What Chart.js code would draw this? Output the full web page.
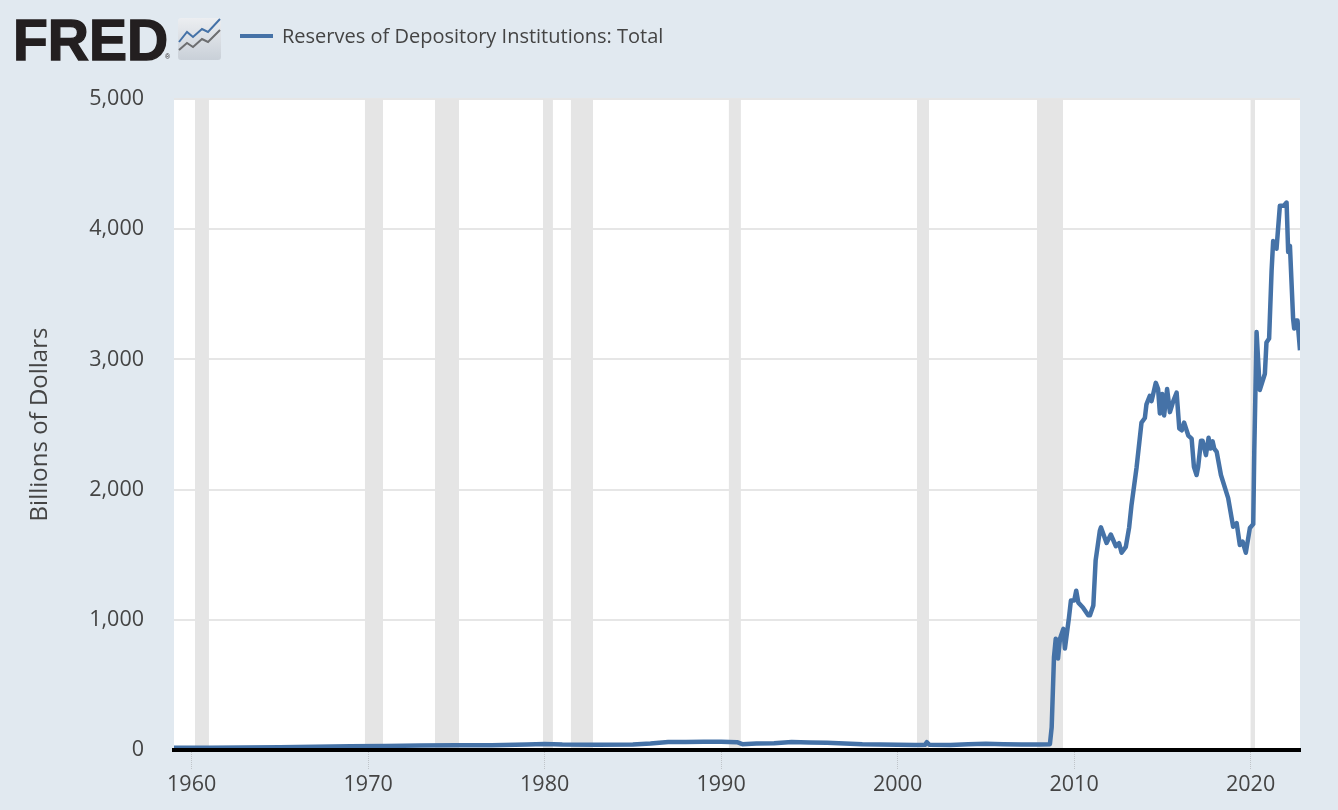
<!DOCTYPE html>
<html>
<head>
<meta charset="utf-8">
<style>
html,body{margin:0;padding:0;width:1338px;height:810px;background:#e1e9f0;overflow:hidden}
#wrap{position:absolute;left:0;top:0;width:1338px;height:810px}
#logo{position:absolute;left:13px;top:7px;font:bold 57px/66px "Liberation Sans",sans-serif;color:#231f20;-webkit-text-stroke:1.4px #231f20}
#reg{position:absolute;left:165px;top:53px;font:7px/8px "Liberation Sans",sans-serif;color:#231f20}
#icon{position:absolute;left:178px;top:18px}
#key{position:absolute;left:240px;top:34px;width:33px;height:4px;background:#4572a7}
#name{position:absolute;left:282px;top:22px;font:20px/28px "Open Sans",sans-serif;color:#444;white-space:nowrap}
</style>
</head>
<body>
<div id="wrap">
<canvas id="c" width="1338" height="810" style="position:absolute;left:0;top:0;width:1338px;height:810px"></canvas>
<div id="logo">FRED</div><div id="reg">®</div>
<svg id="icon" width="44" height="43" viewBox="0 0 44 43">
<defs><linearGradient id="g" x1="0" y1="0" x2="0" y2="1"><stop offset="0" stop-color="#eceef1"/><stop offset="1" stop-color="#c9d0d8"/></linearGradient></defs>
<rect x="0" y="0" width="43" height="42" rx="3" fill="url(#g)"/>
<polyline points="1,32 9,25 15,29 24,21 30,24 42,12" fill="none" stroke="#6d6e70" stroke-width="2"/>
<polyline points="1,24 9,14 15,19 24,11 30,14 42,1" fill="none" stroke="#4572a7" stroke-width="2"/>
</svg>
<div id="key"></div>
<div id="name">Reserves of Depository Institutions: Total</div>
</div>
<script src="https://cdn.jsdelivr.net/npm/chart.js@4/dist/chart.umd.min.js"></script>
<script>
const seriesName = "Reserves of Depository Institutions: Total";
const axisTitle = "Billions of Dollars";
const xTicks = [1960,1970,1980,1990,2000,2010,2020];
const yTicks = [0,1000,2000,3000,4000,5000];
const recessionStart = [1960.19,1969.82,1973.79,1979.91,1981.49,1990.44,2001.10,2007.90,2020.00];
const recessionEnd   = [1960.98,1970.84,1975.15,1980.47,1982.74,1991.12,2001.78,2009.37,2020.25];
const years = [
1959,1961,1963,1965,1967,1969,1971,1973,1975,1977,1979,1980,1981,1983,1985,1986,1987,1988,1989,1990,1990.9,1991.2,1992,1993,1994,1995,1996,1997,1998,1999,2000,2001,2001.55,2001.66,2001.8,2003,2004,2005,2006,2007,2008,
2008.63,2008.73,2008.86,2008.96,2009.09,2009.2,2009.39,2009.48,2009.71,2009.82,2010.01,2010.12,2010.24,2010.5,2010.8,2010.9,2011.09,2011.22,2011.46,2011.52,2011.84,2012.08,2012.37,2012.55,2012.69,2012.93,2013.12,2013.25,2013.54,2013.82,2014.01,2014.1,2014.29,2014.39,2014.63,2014.76,2014.86,2014.99,2015.1,2015.27,2015.43,2015.62,2015.81,2015.96,2016.1,2016.23,2016.47,2016.66,2016.79,2016.94,2017.03,2017.19,2017.28,2017.47,2017.62,2017.73,2017.85,2017.94,2018.08,2018.32,2018.73,2019.01,2019.21,2019.39,2019.55,2019.73,2019.96,2020.15,2020.21,2020.34,2020.52,2020.81,2020.9,2021.05,2021.19,2021.28,2021.47,2021.66,2021.89,2022.04,2022.13,2022.23,2022.41,2022.47,2022.57,2022.66,2022.8];
const reserves = [
18,18,20,22,25,28,30,35,36,36,42,47,42,40,43,50,62,62,64,64,60,45,50,52,62,58,55,50,44,42,40,38,40,60,40,38,44,48,44,42,42,
45,175,712,855,702,855,930,780,1018,1148,1148,1223,1132,1095,1035,1035,1110,1455,1685,1710,1590,1655,1565,1588,1515,1560,1710,1878,2170,2515,2550,2655,2720,2680,2820,2772,2585,2735,2570,2772,2595,2680,2745,2470,2455,2515,2415,2392,2175,2112,2175,2375,2375,2265,2398,2315,2370,2315,2290,2112,1935,1715,1742,1575,1600,1515,1705,1735,2300,3210,2765,2890,3130,3160,3680,3910,3850,4180,4180,4205,3825,3872,3312,3238,3298,3298,3070];

const plotBands = {
  id:'plotBands',
  beforeDraw(chart){
    const {ctx,chartArea:a} = chart;
    ctx.save(); ctx.fillStyle='#ffffff';
    ctx.fillRect(a.left,a.top,a.right-a.left,a.bottom-a.top);
    ctx.restore();
  },
  beforeDatasetsDraw(chart){
    const {ctx,chartArea:a,scales:{x}} = chart;
    ctx.save(); ctx.fillStyle='#e5e5e5';
    recessionStart.forEach((s,i)=>{
      const l=x.getPixelForValue(s), r=x.getPixelForValue(recessionEnd[i]);
      ctx.fillRect(l,a.top,r-l,a.bottom-a.top);
    });
    ctx.restore();
  }
};

const font = {family:'"Open Sans",sans-serif',size:21.5};
new Chart(document.getElementById('c'),{
  type:'line',
  data:{datasets:[{
    label:seriesName,
    data:years.map((y,i)=>({x:y,y:reserves[i]})),
    borderColor:'#4572a7',borderWidth:4.5,pointRadius:0,tension:0,borderJoinStyle:'round',fill:false
  }]},
  plugins:[plotBands],
  options:{
    responsive:false,animation:false,parsing:false,normalized:true,
    layout:{padding:{top:99,right:38,bottom:0,left:0}},
    plugins:{legend:{display:false},tooltip:{enabled:false}},
    scales:{
      x:{type:'linear',min:1959,max:2022.8,
        afterBuildTicks(s){s.ticks=xTicks.map(v=>({value:v}));},
        afterFit(s){s.height=60;},
        ticks:{color:'#444',font,maxRotation:0,autoSkip:false,padding:2,callback:v=>String(v)},
        grid:{drawOnChartArea:false,drawTicks:true,tickLength:20,tickColor:'#bfc4c9',tickWidth:1,tickBorderDash:[1,1]},
        border:{display:true,color:'#000',width:4,z:1}
      },
      y:{min:0,max:5000,
        afterBuildTicks(s){s.ticks=yTicks.map(v=>({value:v}));},
        afterFit(s){s.width=174;},
        ticks:{color:'#444',font:{...font,size:21.5},padding:30,callback:v=>v.toLocaleString('en-US')},
        grid:{color:'#e6e6e6',lineWidth:2,drawTicks:false},
        border:{display:false},
        title:{display:true,text:axisTitle,color:'#444',font:{...font,size:24},padding:{top:26,bottom:0}}
      }
    }
  }
});
</script>
</body>
</html>
